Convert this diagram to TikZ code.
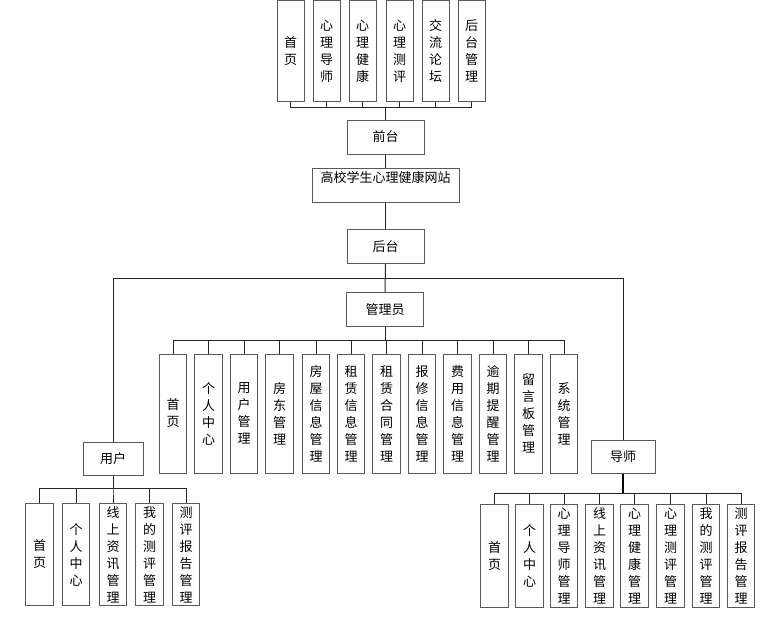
\documentclass[tikz,border=0pt]{standalone}
\usepackage{fontspec}
\setmainfont{Noto Sans CJK SC}
\begin{document}
\begin{tikzpicture}[x=0.75pt,y=-0.75pt,
    frame/.style={draw=black!65, line width=0.75pt, inner sep=0pt, align=center,
        font=\fontsize{9.75}{12.75}\selectfont},
    mainbox/.style={frame, minimum width=57.75pt, minimum height=25.5pt},
    topbox/.style={frame, minimum width=20.25pt, minimum height=75.75pt},
    adminbox/.style={frame, minimum width=20.6pt, minimum height=89.25pt},
    leafbox/.style={frame, minimum width=20.6pt, minimum height=77pt},
    link/.style={draw=black!85, line width=0.75pt},
    thicklink/.style={draw=black, line width=1.3pt}]

      % Page size
      \useasboundingbox (0,0) rectangle (779,619);

      % Main nodes
      \node[mainbox] (front) at (385.5,137) {前台};
      \node[frame, minimum width=110.25pt, text height=11.1pt, text depth=14.4pt] (site) at (385.5,185) {高校学生心理健康网站};
      \node[mainbox] (back) at (385.5,246.5) {后台};
      \node[mainbox] (admin) at (385,309.5) {管理员};
      \node[frame, minimum width=45pt, minimum height=24.75pt] (user) at (113,458.5) {用户};
      \node[frame, minimum width=48pt, minimum height=24.75pt] (tutor) at (623,457) {导师};

      % Trunk
      \draw[link] (front.south) -- (site.north);
      \draw[link] (site.south) -- (back.north);
      \draw[link] (back.south) -- (admin.north);
      \draw[link] (back.south) -- ++(0,14) -| (user.north);
      \draw[link] (back.south) -- ++(0,14) -| (tutor.north);

      % Front-end modules
      \foreach \i/\x/\txt in {
          1/290.5/首\\页,
          2/326.5/心\\理\\导\\师,
          3/362.5/心\\理\\健\\康,
          4/399.5/心\\理\\测\\评,
          5/435.5/交\\流\\论\\坛,
          6/471.5/后\\台\\管\\理
      } {
          \node[topbox] (top\i) at (\x,51) {\txt};
          \draw[link] (front.north) -- ++(0,-12) -| (top\i.south);
      }

      % Admin modules
      \foreach \i/\x/\txt in {
          1/173/首\\页,
          2/208.5/个\\人\\中\\心,
          3/244/用\\户\\管\\理,
          4/279.5/房\\东\\管\\理,
          5/316/房\\屋\\信\\息\\管\\理,
          6/351/租\\赁\\信\\息\\管\\理,
          7/386.5/租\\赁\\合\\同\\管\\理,
          8/422/报\\修\\信\\息\\管\\理,
          9/457.5/费\\用\\信\\息\\管\\理,
          10/493/逾\\期\\提\\醒\\管\\理,
          11/528.5/留\\言\\板\\管\\理,
          12/564/系\\统\\管\\理
      } {
          \node[adminbox] (adm\i) at (\x,413.5) {\txt};
          \draw[link] (admin.south) -- ++(0,13) -| (adm\i.north);
      }

      % User modules
      \foreach \i/\x/\txt in {
          1/39.5/首\\页,
          2/76/个\\人\\中\\心,
          3/113/线\\上\\资\\讯\\管\\理,
          4/149.5/我\\的\\测\\评\\管\\理,
          5/186/测\\评\\报\\告\\管\\理
      } {
          \node[leafbox] (usr\i) at (\x,554.5) {\txt};
          \draw[link] (user.south) -- ++(0,13) -| (usr\i.north);
      }

      % Tutor modules
      \foreach \i/\x/\txt in {
          1/494.5/首\\页,
          2/529.5/个\\人\\中\\心,
          3/564/心\\理\\导\\师\\管\\理,
          4/599.5/线\\上\\资\\讯\\管\\理,
          5/634.5/心\\理\\健\\康\\管\\理,
          6/670.5/心\\理\\测\\评\\管\\理,
          7/706/我\\的\\测\\评\\管\\理,
          8/741/测\\评\\报\\告\\管\\理
      } {
          \node[leafbox] (tut\i) at (\x,556) {\txt};
          \draw[link] (tutor.south) -- ++(0,19) -| (tut\i.north);
      }
      % heavier stem under the tutor box
      \draw[thicklink] (tutor.south) -- ++(0,19);

\end{tikzpicture}
\end{document}
